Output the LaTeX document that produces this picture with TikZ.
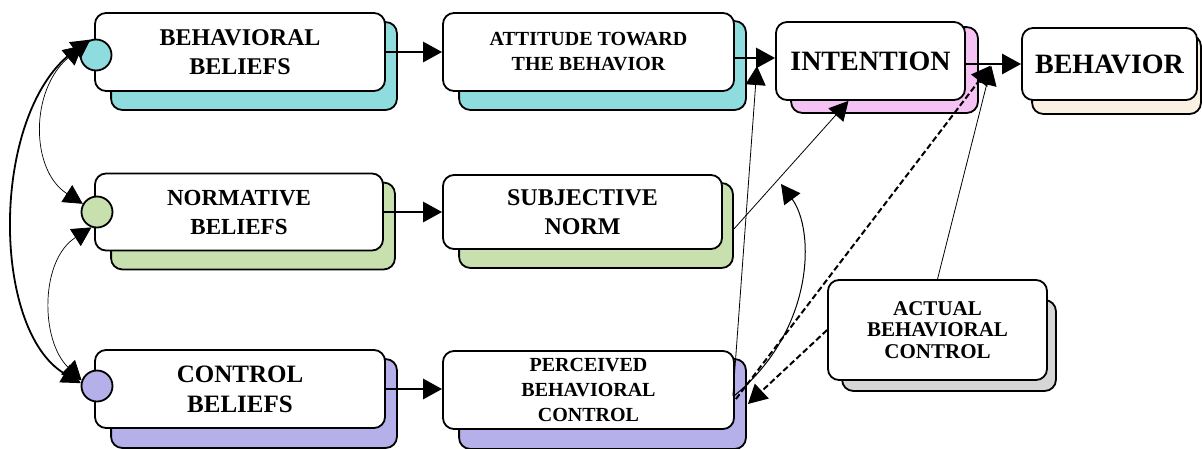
\documentclass[tikz,border=0pt]{standalone}
\usepackage{fontspec}
\setmainfont{Liberation Serif}
\usetikzlibrary{arrows.meta,backgrounds,calc}

\definecolor{bbcol}{HTML}{8FDCDF}
\definecolor{nbcol}{HTML}{C8DFAE}
\definecolor{cbcol}{HTML}{B6B0EA}
\definecolor{incol}{HTML}{F5C3F3}
\definecolor{becol}{HTML}{FBF1E3}
\definecolor{accol}{HTML}{D6D6D6}

\tikzset{
  card/.style={draw, line width=1.8pt, rounded corners=11pt, fill=white,
    align=center, font=\bfseries, inner sep=0pt},
  cardback/.style={draw, line width=1.8pt, rounded corners=11pt},
  dot/.style={circle, draw, line width=1.8pt, inner sep=0pt, minimum size=31pt},
  tri/.style={-{Triangle[length=19pt,width=20pt]}},
  bitri/.style={{Triangle[length=19pt,width=20pt]}-{Triangle[length=19pt,width=20pt]}},
  boldarrow/.style={tri, line width=2.8pt},
  thinarrow/.style={tri, line width=0.8pt},
  dasharrow/.style={tri, line width=2pt, dash pattern=on 6pt off 3pt},
}

% card behind a node: name, colour, shift of north west, shift of south east
\newcommand\backcard[4]{%
  \draw[cardback,fill=#2] ([shift={#3}]#1.north west) rectangle ([shift={#4}]#1.south east);}

\begin{document}
\begin{tikzpicture}[x=1pt,y=-1pt]
  \useasboundingbox (0,0) rectangle (1202,448);

  % beliefs
  \node[card, minimum width=290pt, minimum height=78pt,
        font=\bfseries\fontsize{24}{29}\selectfont] (bb) at (240,52) {BEHAVIORAL\\BELIEFS};
  \node[card, minimum width=288pt, minimum height=77pt,
        font=\bfseries\fontsize{23}{29}\selectfont] (nb) at (239,212) {NORMATIVE\\BELIEFS};
  \node[card, minimum width=290pt, minimum height=78pt,
        font=\bfseries\fontsize{25}{30}\selectfont] (cb) at (240,389) {CONTROL\\BELIEFS};

  % attitude, norm, control
  \node[card, minimum width=291pt, minimum height=78pt,
        font=\bfseries\fontsize{20}{25}\selectfont] (att) at (588.5,52) {ATTITUDE TOWARD\\THE BEHAVIOR};
  \node[card, minimum width=279pt, minimum height=74pt,
        font=\bfseries\fontsize{24}{29}\selectfont] (sn) at (582.5,212) {SUBJECTIVE\\NORM};
  \node[card, minimum width=291pt, minimum height=78pt,
        font=\bfseries\fontsize{20}{25}\selectfont] (pbc) at (588.5,390) {PERCEIVED\\BEHAVIORAL\\CONTROL};

  % intention, behavior
  \node[card, minimum width=189pt, minimum height=78pt,
        font=\bfseries\fontsize{28}{30}\selectfont] (intn) at (870.5,61) {INTENTION};
  \node[card, minimum width=175pt, minimum height=72pt,
        font=\bfseries\fontsize{28}{30}\selectfont] (beh) at (1109.5,64) {BEHAVIOR};
  \node[card, minimum width=219pt, minimum height=100pt,
        font=\bfseries\fontsize{21}{21.5}\selectfont] (abc) at (937.5,330) {ACTUAL\\BEHAVIORAL\\CONTROL};

  \begin{scope}[on background layer]
    \backcard{bb}{bbcol}{(17,10)}{(11,18)}
    \backcard{nb}{nbcol}{(17,10)}{(11,18)}
    \backcard{cb}{cbcol}{(17,10)}{(11,19)}
    \backcard{att}{bbcol}{(17,9)}{(11,18)}
    \backcard{sn}{nbcol}{(17,9)}{(10,18)}
    \backcard{pbc}{cbcol}{(17,9)}{(11,19)}
    \backcard{intn}{incol}{(16,6)}{(12,12)}
    \backcard{beh}{becol}{(11,8)}{(3,13)}
    \backcard{abc}{accol}{(15,21)}{(8,10)}
  \end{scope}

  \node[dot, fill=bbcol] (bbc) at (96,55) {};
  \node[dot, fill=nbcol] (nbc) at (97,212) {};
  \node[dot, fill=cbcol] (cbc) at (97,386) {};

  % links between beliefs
  \draw[bitri, line width=1.8pt] (cbc.170) .. controls (-10,330) and (-10,110) .. (bbc.110);
  \draw[bitri, line width=0.7pt] (bbc.145) .. controls (30,90) and (30,170) .. (nbc.150);
  \draw[bitri, line width=0.7pt] (nbc.250) .. controls (40,260) and (40,340) .. (cbc.160);

  \draw[boldarrow] (bb.east) -- (bb.east -| att.west);
  \draw[boldarrow] (nb.east) -- (nb.east -| sn.west);
  \draw[boldarrow] (cb.east) -- (cb.east -| pbc.west);

  \draw[boldarrow] (att.east |- 0,58) -- (intn.west |- 0,58);
  \draw[boldarrow] (intn.east |- beh.west) -- (beh.west);
  \coordinate (ibm) at ($(intn.east |- beh.west)!0.47!(beh.west)$);

  \coordinate (pbcup) at (757,66);
  \coordinate (pbcarc) at (781,184);
  \draw[thinarrow] ([shift={(-2,6)}]pbc.east) -- (pbcup);
  \draw[thinarrow] ([shift={(11,17)}]sn.east) -- ([xshift=-22pt]intn.south);
  \draw[tri, line width=1pt] ([shift={(-1,6)}]pbc.east) .. controls (815,330) and (815,230) .. (pbcarc);

  \draw[dasharrow, shorten >=2pt] ([shift={(1,9)}]pbc.east) -- (ibm);
  \draw[thinarrow, shorten >=2pt] (abc.north) -- (ibm);
  \draw[dasharrow] (abc.west) -- ([shift={(13,14)}]pbc.east);
\end{tikzpicture}
\end{document}
